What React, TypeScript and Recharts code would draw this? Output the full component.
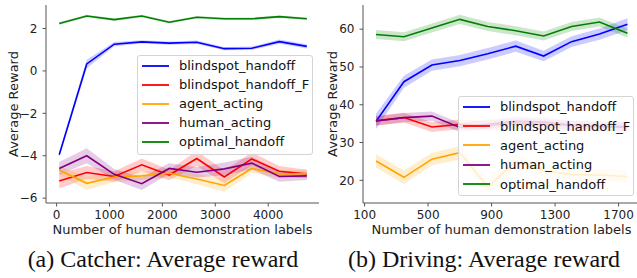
import React from 'react';
import { ComposedChart, Line, Area, XAxis, YAxis, Legend, Label } from 'recharts';

const FONT = "'DejaVu Sans', 'Liberation Sans', sans-serif";
const SERIF = "'Liberation Serif', 'Times New Roman', serif";
const AXIS = '#555';

// ---------- Catcher (a) ----------
const catcherX = [50, 570, 1090, 1610, 2130, 2650, 3170, 3690, 4210, 4730];
const catcherXTicks = [0, 1000, 2000, 3000, 4000];
const catcherYTicks = [-6, -4, -2, 0, 2];
const catcherBlind = [-3.95, 0.33, 1.26, 1.37, 1.31, 1.35, 1.05, 1.07, 1.38, 1.16];
const catcherBlindErr = [0.12, 0.2, 0.1, 0.08, 0.08, 0.08, 0.08, 0.08, 0.1, 0.1];
const catcherBlindF = [-5.19, -4.79, -4.98, -4.43, -4.91, -4.13, -5.0, -4.15, -4.73, -4.86];
const catcherBlindFErr = [0.35, 0.3, 0.25, 0.3, 0.25, 0.35, 0.3, 0.3, 0.25, 0.2];
const catcherAgent = [-4.67, -5.3, -5.0, -4.95, -4.83, -5.1, -5.4, -4.6, -4.86, -4.85];
const catcherAgentErr = [0.2, 0.3, 0.25, 0.2, 0.2, 0.25, 0.3, 0.2, 0.2, 0.2];
const catcherHuman = [-4.6, -4.0, -4.88, -5.32, -4.6, -4.78, -4.62, -4.35, -4.98, -4.95];
const catcherHumanErr = [0.3, 0.35, 0.25, 0.3, 0.25, 0.25, 0.3, 0.3, 0.25, 0.2];
const catcherOptimal = [2.24, 2.59, 2.42, 2.59, 2.3, 2.53, 2.46, 2.46, 2.56, 2.46];
const catcherOptimalErr = [0.06, 0.06, 0.06, 0.06, 0.06, 0.06, 0.06, 0.06, 0.06, 0.06];

// ---------- Driving (b) ----------
const drivingX = [172, 348, 524, 700, 876, 1052, 1228, 1404, 1580, 1756];
const drivingXTicks = [100, 500, 900, 1300, 1700];
const drivingYTicks = [20, 30, 40, 50, 60];
const drivingBlind = [35.6, 46.1, 50.5, 51.7, 53.5, 55.5, 52.9, 56.7, 58.7, 61.3];
const drivingBlindErr = [2.0, 1.6, 1.5, 1.5, 1.5, 1.5, 1.4, 1.4, 1.5, 1.6];
const drivingBlindF = [35.8, 36.6, 34.1, 34.8, 34.5, 35.0, 34.8, 34.5, 34.3, 34.0];
const drivingBlindFErr = [1.3, 1.3, 1.3, 1.3, 1.3, 1.3, 1.3, 1.3, 1.3, 1.3];
const drivingAgent = [25.1, 20.8, 25.6, 27.3, 18.3, 25.0, 22.6, 21.5, 21.4, 21.0];
const drivingAgentErr = [1.8, 1.8, 1.6, 1.8, 2.0, 1.8, 1.6, 1.5, 1.5, 1.6];
const drivingHuman = [35.7, 36.6, 37.0, 34.0, 34.8, 35.6, 35.4, 34.6, 34.2, 34.2];
const drivingHumanErr = [1.2, 1.2, 1.2, 1.2, 1.2, 1.2, 1.2, 1.2, 1.2, 1.2];
const drivingOptimal = [58.6, 58.0, 60.3, 62.6, 60.7, 59.6, 58.2, 60.7, 61.9, 58.9];
const drivingOptimalErr = [1.2, 1.2, 1.2, 1.2, 1.2, 1.2, 1.2, 1.2, 1.2, 1.2];

const seriesNames = ['blindspot_handoff', 'blindspot_handoff_F', 'agent_acting', 'human_acting', 'optimal_handoff'];
const seriesColors = ['#0000ff', '#ff0000', '#ffa500', '#800080', '#008000'];

type S = { key: string; name: string; color: string; values: number[]; errs: number[] };

const mkSeries = (vals: number[][], errs: number[][]): S[] =>
  seriesNames.map((name, i) => ({ key: 's' + i, name, color: seriesColors[i], values: vals[i], errs: errs[i] }));

const catcherSeries = mkSeries(
  [catcherBlind, catcherBlindF, catcherAgent, catcherHuman, catcherOptimal],
  [catcherBlindErr, catcherBlindFErr, catcherAgentErr, catcherHumanErr, catcherOptimalErr]
);
const drivingSeries = mkSeries(
  [drivingBlind, drivingBlindF, drivingAgent, drivingHuman, drivingOptimal],
  [drivingBlindErr, drivingBlindFErr, drivingAgentErr, drivingHumanErr, drivingOptimalErr]
);

const buildRows = (xs: number[], series: S[]) =>
  xs.map((x, i) => {
    const row: any = { x };
    series.forEach((s) => {
      row[s.key] = s.values[i];
      row[s.key + 'Band'] = [s.values[i] - s.errs[i], s.values[i] + s.errs[i]];
    });
    return row;
  });

const fmt = (v: number) => String(v).replace('-', '\u2212');

const makeLegend = (series: S[], rowH: number) => () => (
  <div
    style={{
      width: 176,
      height: 100,
      boxSizing: 'border-box',
      border: '1px solid #d4d4d4',
      borderRadius: 3,
      background: 'rgba(255,255,255,0.8)',
      fontFamily: FONT,
      fontSize: 13,
      color: '#111',
      paddingTop: 0,
    }}
  >
    {series.map((s) => (
      <div key={s.key} style={{ height: rowH, display: 'flex', alignItems: 'center' }}>
        <svg width={27} height={4} style={{ marginLeft: 4, marginRight: 10, display: 'block' }}>
          <line x1={0} y1={2} x2={27} y2={2} stroke={s.color} strokeWidth={1.8} />
        </svg>
        <span style={{ whiteSpace: 'nowrap', lineHeight: 1 }}>{s.name}</span>
      </div>
    ))}
  </div>
);

type PanelProps = {
  xs: number[];
  series: S[];
  width: number;
  marginRight: number;
  xDomain: [number, number];
  xTicks: number[];
  yDomain: [number, number];
  yTicks: number[];
  legendLeft: number;
  legendTop: number;
  rowH: number;
  caption: string;
  captionX: number;
  yLabelX: number;
};

const Panel = (p: PanelProps) => {
  const rows = buildRows(p.xs, p.series);
  return (
    <ComposedChart width={p.width} height={278} data={rows} margin={{ top: 5, right: p.marginRight, bottom: 0, left: 0 }}>
      <XAxis
        dataKey="x"
        type="number"
        domain={p.xDomain}
        ticks={p.xTicks}
        allowDataOverflow
        height={75}
        tickSize={3.5}
        tickMargin={3.5}
        interval={0}
        tick={{ fontSize: 12, fill: '#222', fontFamily: FONT }}
        axisLine={{ stroke: AXIS, strokeWidth: 1 }}
        tickLine={{ stroke: AXIS, strokeWidth: 1 }}
      >
        <Label
          content={(lp: any) => {
            const vb = lp.viewBox || {};
            return (
              <text x={(vb.x ?? 0) + (vb.width ?? 0) / 2} y={(vb.y ?? 203) + 31} textAnchor="middle" fontFamily={FONT} fontSize={13} fill="#222">
                Number of human demonstration labels
              </text>
            );
          }}
        />
        <Label
          content={() => (
            <text x={p.captionX} y={267} textAnchor="middle" fontFamily={SERIF} fontSize={24} fill="#111">
              {p.caption}
            </text>
          )}
        />
      </XAxis>
      <XAxis xAxisId="top" orientation="top" dataKey="x" type="number" domain={p.xDomain} height={0} tick={false} tickLine={false} axisLine={{ stroke: AXIS }} />
      <YAxis
        type="number"
        domain={p.yDomain}
        ticks={p.yTicks}
        allowDataOverflow
        width={46}
        tickSize={3.5}
        tickMargin={5}
        interval={0}
        tickFormatter={fmt}
        tick={{ fontSize: 12, fill: '#222', fontFamily: FONT }}
        axisLine={{ stroke: AXIS, strokeWidth: 1 }}
        tickLine={{ stroke: AXIS, strokeWidth: 1 }}
      >
        <Label
          content={(lp: any) => {
            const vb = lp.viewBox || {};
            const cy = (vb.y ?? 5) + (vb.height ?? 198) / 2;
            return (
              <text x={p.yLabelX} y={cy} transform={`rotate(-90 ${p.yLabelX} ${cy})`} textAnchor="middle" dominantBaseline="central" fontFamily={FONT} fontSize={13} fill="#222">
                Average Reward
              </text>
            );
          }}
        />
      </YAxis>
      <YAxis yAxisId="right" orientation="right" type="number" domain={p.yDomain} width={0} tick={false} tickLine={false} axisLine={{ stroke: AXIS }} />
      {p.series.map((s) => (
        <Area
          key={s.key + 'Band'}
          type="linear"
          dataKey={s.key + 'Band'}
          stroke="none"
          fill={s.color}
          fillOpacity={0.2}
          legendType="none"
          dot={false}
          activeDot={false}
          isAnimationActive={false}
        />
      ))}
      {p.series.map((s) => (
        <Line
          key={s.key}
          type="linear"
          dataKey={s.key}
          name={s.name}
          stroke={s.color}
          strokeWidth={1.6}
          dot={false}
          activeDot={false}
          isAnimationActive={false}
        />
      ))}
      <Legend
        layout="vertical"
        align="center"
        verticalAlign="middle"
        content={makeLegend(p.series, p.rowH)}
        wrapperStyle={{ left: p.legendLeft, top: p.legendTop, width: 176, height: 100, margin: 0, padding: 0 }}
      />
    </ComposedChart>
  );
};

export default function App() {
  return (
    <div style={{ position: 'absolute', left: 0, top: 0, width: 637, height: 278, overflow: 'hidden', background: '#fff' }}>
      <div style={{ position: 'absolute', left: 0, top: 0 }}>
        <Panel
          xs={catcherX}
          series={catcherSeries}
          width={320}
          marginRight={1}
          xDomain={[-200, 4960]}
          xTicks={catcherXTicks}
          yDomain={[-6.23, 3.11]}
          yTicks={catcherYTicks}
          legendLeft={137}
          legendTop={55}
          rowH={19}
          caption="(a) Catcher: Average reward"
          captionX={163}
          yLabelX={13}
        />
      </div>
      <div style={{ position: 'absolute', left: 317, top: 0 }}>
        <Panel
          xs={drivingX}
          series={drivingSeries}
          width={330}
          marginRight={7}
          xDomain={[90, 1835]}
          xTicks={drivingXTicks}
          yDomain={[14, 66.4]}
          yTicks={drivingYTicks}
          legendLeft={141}
          legendTop={96}
          rowH={19.4}
          caption="(b) Driving: Average reward"
          captionX={167}
          yLabelX={15}
        />
      </div>
    </div>
  );
}
